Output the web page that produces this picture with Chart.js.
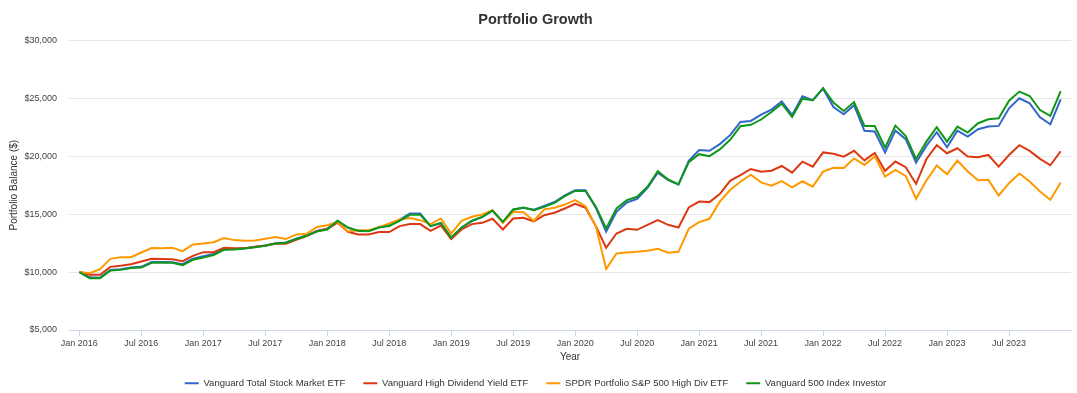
<!DOCTYPE html>
<html>
<head>
<meta charset="utf-8">
<title>Portfolio Growth</title>
<script src="https://cdn.jsdelivr.net/npm/chart.js@4.4.0/dist/chart.umd.min.js"></script>
<style>
  html, body { margin: 0; padding: 0; background: #fff; }
</style>
</head>
<body>
<canvas id="chart" width="1077" height="393"></canvas>
<script>
// monthly balances, Jan 2016 .. Dec 2023, starting at $10,000
const firstYear = 2016;
const monthNames = ['Jan', 'Feb', 'Mar', 'Apr', 'May', 'Jun', 'Jul', 'Aug', 'Sep', 'Oct', 'Nov', 'Dec'];

const vti = [
  10000, 9550, 9520, 10180, 10240, 10400, 10450, 10870, 10860, 10850, 10680, 11150,
  11370, 11560, 11980, 11990, 12060, 12170, 12300, 12490, 12560, 12880, 13170, 13550,
  13750, 14420, 13830, 13540, 13540, 13880, 14020, 14500, 15060, 15060, 13960, 14220,
  12900, 13830, 14400, 14740, 15300, 14300, 15380, 15560, 15380, 15700, 16050, 16620,
  17060, 17060, 15560, 13480, 15200, 16010, 16320, 17270, 18590, 17930, 17560, 19600,
  20530, 20470, 21050, 21820, 22960, 23050, 23600, 24030, 24740, 23570, 25170, 24830,
  25830, 24250, 23620, 24400, 22200, 22130, 20320, 22210, 21470, 19450, 20890, 22070,
  20780, 22210, 21700, 22330, 22560, 22620, 24140, 25000, 24570, 23360, 22760, 24910
];
const vym = [
  10000, 9760, 9760, 10450, 10540, 10680, 10910, 11140, 11120, 11100, 10940, 11400,
  11720, 11720, 12090, 12060, 12060, 12180, 12290, 12440, 12440, 12790, 13100, 13540,
  13720, 14260, 13480, 13250, 13250, 13450, 13450, 13970, 14140, 14140, 13560, 14020,
  12850, 13680, 14140, 14250, 14600, 13680, 14630, 14680, 14370, 14910, 15120, 15490,
  15900, 15550, 13970, 12100, 13330, 13740, 13650, 14080, 14480, 14080, 13850, 15580,
  16090, 16040, 16730, 17880, 18370, 18900, 18670, 18750, 19160, 18580, 19530, 19100,
  20330, 20210, 19960, 20470, 19640, 20280, 18740, 19540, 19050, 17610, 19740, 20950,
  20260, 20690, 19970, 19910, 20110, 19110, 20110, 20950, 20460, 19770, 19220, 20430
];
const spyd = [
  10000, 9900, 10250, 11140, 11290, 11290, 11690, 12070, 12050, 12090, 11810, 12380,
  12470, 12580, 12930, 12760, 12700, 12730, 12870, 13020, 12850, 13250, 13300, 13900,
  14050, 14330, 13510, 13620, 13620, 13850, 14200, 14540, 14660, 14480, 14140, 14630,
  13330, 14430, 14770, 14970, 15350, 14250, 15200, 15170, 14430, 15400, 15550, 15830,
  16210, 15690, 13970, 10260, 11610, 11700, 11750, 11840, 12010, 11670, 11750, 13740,
  14310, 14600, 16080, 17080, 17800, 18400, 17740, 17460, 17860, 17320, 17840, 17380,
  18670, 19010, 18980, 19810, 19250, 19990, 18250, 18820, 18300, 16330, 17900, 19200,
  18450, 19630, 18680, 17930, 17960, 16610, 17670, 18510, 17820, 16950, 16240, 17730
];
const vfiax = [
  10000, 9470, 9470, 10130, 10190, 10360, 10390, 10800, 10800, 10800, 10600, 11060,
  11260, 11460, 11920, 11950, 12030, 12150, 12270, 12470, 12530, 12850, 13130, 13500,
  13680, 14430, 13850, 13560, 13530, 13850, 13970, 14430, 14940, 14940, 13970, 14250,
  12990, 13850, 14430, 14770, 15320, 14340, 15400, 15580, 15350, 15630, 15980, 16550,
  17010, 17010, 15630, 13760, 15490, 16210, 16500, 17360, 18710, 17990, 17570, 19490,
  20180, 20010, 20590, 21420, 22590, 22710, 23170, 23820, 24540, 23390, 24970, 24830,
  25890, 24630, 23910, 24680, 22610, 22610, 20750, 22640, 21750, 19770, 21260, 22500,
  21260, 22560, 22040, 22850, 23190, 23280, 24800, 25580, 25200, 23990, 23480, 25630
];

const seriesNames = [
  'Vanguard Total Stock Market ETF',
  'Vanguard High Dividend Yield ETF',
  'SPDR Portfolio S&P 500 High Div ETF',
  'Vanguard 500 Index Investor'
];

const months = vti.map((v, i) => monthNames[i % 12] + ' ' + (firstYear + Math.floor(i / 12)));
// one empty month on each side, like the original axis
const axisLabels = ['Dec ' + (firstYear - 1), ...months, 'Jan ' + (firstYear + months.length / 12)];

function toPoints(values) {
  return values.map((v, i) => ({ x: months[i], y: v }));
}

function lineSet(label, values, color, order) {
  return {
    label: label,
    data: toPoints(values),
    borderColor: color,
    backgroundColor: color,
    borderWidth: 2,
    pointRadius: 0,
    tension: 0,
    fill: false,
    order: order
  };
}

// legend keeps wide item spacing but less empty space under it
const tightLegend = {
  id: 'tightLegend',
  beforeInit(chart) {
    const fit = chart.legend.fit;
    chart.legend.fit = function () {
      fit.call(this);
      this.height -= 5;
    };
  }
};

Chart.defaults.font.family = "'Liberation Sans', Arial, sans-serif";
Chart.defaults.color = '#444';

const ctx = document.getElementById('chart').getContext('2d');
new Chart(ctx, {
  type: 'line',
  data: {
    labels: axisLabels,
    datasets: [
      lineSet(seriesNames[0], vti, '#3366cc', 3),
      lineSet(seriesNames[1], vym, '#dc3912', 2),
      lineSet(seriesNames[2], spyd, '#ff9900', 1),
      lineSet(seriesNames[3], vfiax, '#109618', 0)
    ]
  },
  plugins: [tightLegend],
  options: {
    responsive: false,
    animation: false,
    devicePixelRatio: 1,
    layout: { padding: { left: 0, right: 6, top: 0, bottom: 0 } },
    plugins: {
      title: {
        display: true,
        text: 'Portfolio Growth',
        color: '#333',
        font: { size: 14.5, weight: 'bold' },
        padding: { top: 11, bottom: 12 }
      },
      legend: {
        position: 'bottom',
        labels: {
          usePointStyle: true,
          pointStyle: 'line',
          pointStyleWidth: 14,
          color: '#333',
          font: { size: 9.5 },
          padding: 18,
          sort: (a, b) => a.datasetIndex - b.datasetIndex
        }
      },
      tooltip: { enabled: false }
    },
    scales: {
      x: {
        type: 'category',
        afterFit: (scale) => { scale.height = 30.5; },
        grid: { drawOnChartArea: false, color: '#ccd6eb', tickLength: 6 },
        border: { color: '#ccd6eb' },
        afterBuildTicks: (scale) => {
          scale.ticks = scale.ticks.filter(t => {
            const lab = axisLabels[t.value];
            return months.includes(lab) && (lab.startsWith('Jan') || lab.startsWith('Jul'));
          });
        },
        ticks: { autoSkip: false, maxRotation: 0, padding: 2, font: { size: 9 } },
        title: { display: true, text: 'Year', color: '#333', font: { size: 10 }, padding: { top: 0, bottom: -3 } }
      },
      y: {
        min: 5000,
        max: 30000,
        afterFit: (scale) => { scale.width = 69; },
        grid: { color: '#e6e6e6', drawTicks: false },
        border: { display: false },
        ticks: {
          stepSize: 5000,
          padding: 12,
          font: { size: 9 },
          callback: (v) => '$' + v.toLocaleString('en-US')
        },
        title: {
          display: true,
          text: 'Portfolio Balance ($)',
          color: '#333',
          font: { size: 10 },
          padding: { top: 8.5, bottom: 0 }
        }
      }
    }
  }
});
</script>
</body>
</html>
